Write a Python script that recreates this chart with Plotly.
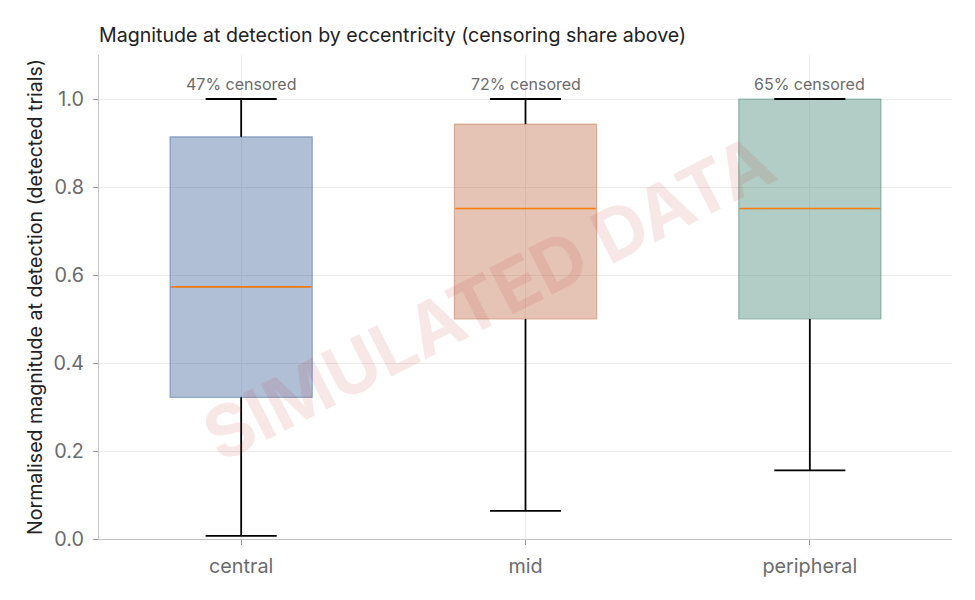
import plotly.graph_objects as go

categories = ["central", "mid", "peripheral"]
q1 = [0.322, 0.500, 0.500]
median = [0.573, 0.751, 0.751]
q3 = [0.914, 0.943, 1.000]
whisker_low = [0.007, 0.064, 0.156]
whisker_high = [1.000, 1.000, 1.000]
censored_pct = [47, 72, 65]

fill_colors = ["rgba(79,113,164,0.45)", "rgba(200,124,91,0.45)", "rgba(84,144,128,0.45)"]
edge_colors = ["rgba(79,113,164,0.55)", "rgba(200,124,91,0.55)", "rgba(84,144,128,0.55)"]

BOX_W = 0.5
CAP_W = 0.25
FONT = "Inter, Liberation Sans, Arial, sans-serif"

fig = go.Figure()
xs = list(range(len(categories)))

for i, x in enumerate(xs):
    fig.add_trace(go.Box(
        x=[x], q1=[q1[i]], median=[median[i]], q3=[q3[i]],
        lowerfence=[q1[i]], upperfence=[q3[i]],
        width=BOX_W, fillcolor=fill_colors[i],
        line=dict(color=edge_colors[i], width=1.2),
        whiskerwidth=0, boxpoints=False, hoverinfo="skip", showlegend=False,
    ))

# whiskers and caps
for i, x in enumerate(xs):
    wx = [x, x, None, x, x, None,
          x - CAP_W / 2, x + CAP_W / 2, None, x - CAP_W / 2, x + CAP_W / 2]
    wy = [q1[i], whisker_low[i], None, q3[i], whisker_high[i], None,
          whisker_low[i], whisker_low[i], None, whisker_high[i], whisker_high[i]]
    fig.add_trace(go.Scatter(x=wx, y=wy, mode="lines",
                             line=dict(color="black", width=1.8),
                             hoverinfo="skip", showlegend=False))
    fig.add_trace(go.Scatter(x=[x - BOX_W / 2 + 0.005, x + BOX_W / 2 - 0.005],
                             y=[median[i], median[i]], mode="lines",
                             line=dict(color="#ff7f0e", width=1.6),
                             hoverinfo="skip", showlegend=False))

for i, x in enumerate(xs):
    fig.add_annotation(x=x, y=whisker_high[i], text=f"{censored_pct[i]}% censored",
                       showarrow=False, yanchor="bottom", yshift=3,
                       font=dict(size=16, color="#6b6b6b", family=FONT))

fig.add_annotation(x=0.456, y=0.5, xref="paper", yref="paper",
                   text="<b>SIMULATED DATA</b>", showarrow=False, textangle=-27,
                   font=dict(size=72, color="rgba(190,60,60,0.12)", family=FONT))

fig.update_layout(
    width=959, height=584,
    margin=dict(l=91, r=15, t=47, b=53),
    plot_bgcolor="white", paper_bgcolor="white",
    font=dict(family=FONT, color="#222222"),
    title=dict(text="Magnitude at detection by eccentricity (censoring share above)",
               x=91 / 959, xanchor="left", y=1 - 27 / 584, yanchor="middle",
               font=dict(size=19.6, color="#222222", family=FONT)),
    showlegend=False,
)
fig.update_xaxes(range=[-0.5, 2.5], tickvals=xs, ticktext=categories,
                 showgrid=True, gridcolor="#ebebeb", gridwidth=1,
                 showline=True, linecolor="#c4c4c4", linewidth=1.2,
                 ticks="outside", ticklen=5, tickcolor="#999999",
                 ticklabelstandoff=4,
                 tickfont=dict(size=19.8, color="#6b6b6b"), zeroline=False)
fig.update_yaxes(range=[0, 1.1], tickvals=[0, 0.2, 0.4, 0.6, 0.8, 1.0],
                 ticktext=["0.0", "0.2", "0.4", "0.6", "0.8", "1.0"],
                 showgrid=True, gridcolor="#ebebeb", gridwidth=1,
                 showline=True, linecolor="#c4c4c4", linewidth=1.2,
                 ticks="outside", ticklen=5, tickcolor="#999999",
                 ticklabelstandoff=5,
                 tickfont=dict(size=19.8, color="#6b6b6b"), zeroline=False,
                 title=dict(text="Normalised magnitude at detection (detected trials)",
                            font=dict(size=19.6, color="#222222"), standoff=5))

fig.write_html("out.html")
